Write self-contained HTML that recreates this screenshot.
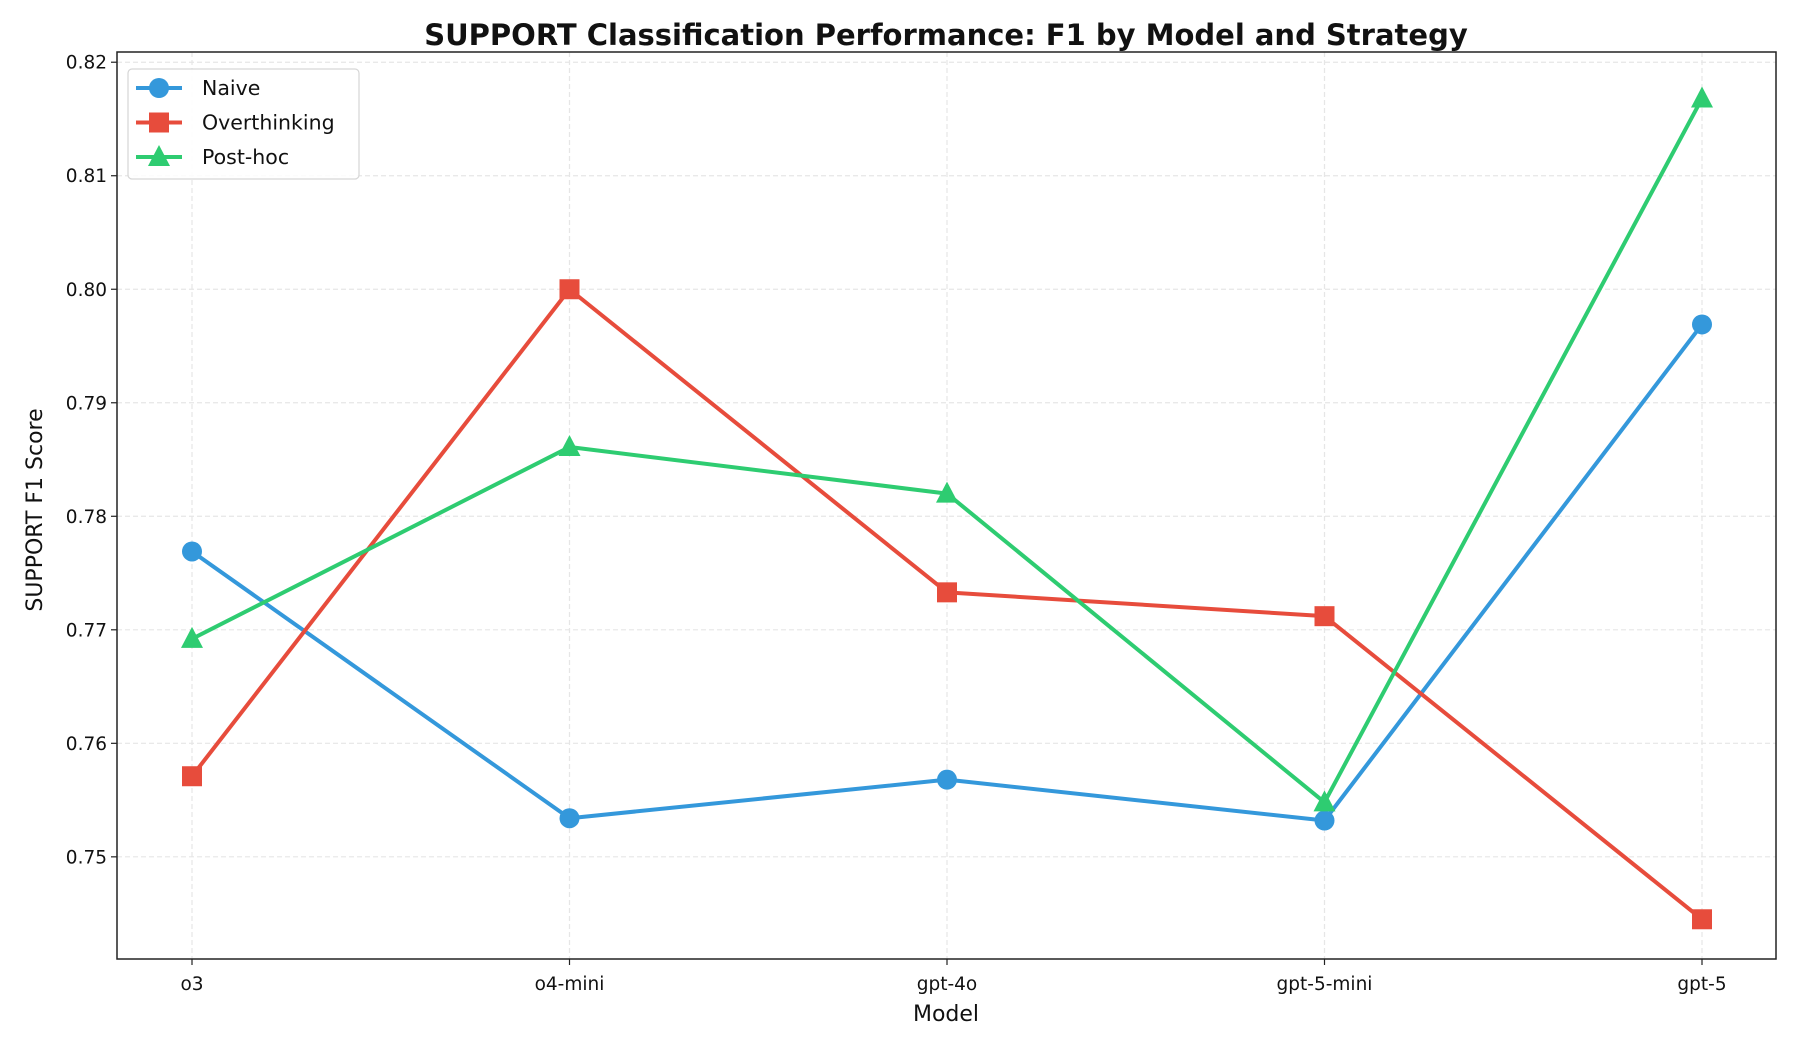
<!DOCTYPE html>
<html><head><meta charset="utf-8"><style>
body{margin:0;background:#fff}
svg{display:block;font-family:"DejaVu Sans","Liberation Sans",sans-serif}
</style></head><body>
<svg id="chart" width="1800" height="1050"></svg>
<script>
const categories=["o3","o4-mini","gpt-4o","gpt-5-mini","gpt-5"];
const naive=[0.7769,0.7534,0.7568,0.7532,0.7969];
const overthinking=[0.7571,0.8000,0.7733,0.7712,0.7445];
const posthoc=[0.7692,0.7861,0.7820,0.7548,0.8168];
const yTicks=[0.75,0.76,0.77,0.78,0.79,0.80,0.81,0.82];
const seriesNames=["Naive","Overthinking","Post-hoc"];

const NS="http://www.w3.org/2000/svg";
const svg=document.getElementById('chart');
const L=117,R=1776,T=52,B=959;
const yMin=0.7410,yMax=0.8209;
const x0=192,dx=377.5;
function xs(i){return x0+i*dx;}
function ys(v){return B-(v-yMin)/(yMax-yMin)*(B-T);}
function mk(tag,attrs,parent){const e=document.createElementNS(NS,tag);for(const k in attrs)e.setAttribute(k,attrs[k]);(parent||svg).appendChild(e);return e;}

yTicks.forEach(v=>{
  const g=mk('line',{x1:L,x2:R,y1:ys(v),y2:ys(v),stroke:'#e6e6e6','stroke-width':1.2,'stroke-dasharray':'5,3'});
  
  
  const t=mk('line',{x1:L-6,x2:L,y1:ys(v),y2:ys(v),stroke:'#222','stroke-width':1.2});
  
  
  const tx=mk('text',{x:L-10,y:ys(v)+6.5,'text-anchor':'end','font-size':18.5,fill:'#111'});
  tx.textContent=v.toFixed(2);
  
  
});
categories.forEach((c,i)=>{
  const g=mk('line',{x1:xs(i),x2:xs(i),y1:T,y2:B,stroke:'#e6e6e6','stroke-width':1.2,'stroke-dasharray':'5,3'});
  
  
  const t=mk('line',{x1:xs(i),x2:xs(i),y1:B,y2:B+6,stroke:'#222','stroke-width':1.2});
  
  
  const tx=mk('text',{x:xs(i),y:B+31,'text-anchor':'middle','font-size':18.5,fill:'#111'});
  tx.textContent=c;
  
  
});

const colors=['#3498db','#e74c3c','#2ecc71'];
const data=[naive,overthinking,posthoc];
const shapes=['circle','square','triangle'];
function marker(shape,cx,cy,color,parent){
  let e;
  if(shape==='circle')e=mk('circle',{cx:cx,cy:cy,r:10,fill:color},parent);
  else if(shape==='square')e=mk('rect',{x:cx-10,y:cy-10,width:20,height:20,fill:color},parent);
  else e=mk('polygon',{points:`${cx},${cy-12} ${cx+11},${cy+9} ${cx-11},${cy+9}`,fill:color},parent);
  return e;
}
data.forEach((arr,si)=>{
  const g=mk('g',{});
  
  
  const pts=arr.map((v,i)=>xs(i)+','+ys(v)).join(' ');
  const pl=mk('polyline',{points:pts,fill:'none',stroke:colors[si],'stroke-width':4,'stroke-linejoin':'round'},g);
  
  
  arr.forEach((v,i)=>{
    const m=marker(shapes[si],xs(i),ys(v),colors[si],g);
    
    
  });
});

const fr=mk('rect',{x:L,y:T,width:R-L,height:B-T,fill:'none',stroke:'#222','stroke-width':1.5});



const lg=mk('g',{});


mk('rect',{x:128,y:69,width:231,height:110,rx:4,fill:'#fff','fill-opacity':0.85,stroke:'#d6d6d6','stroke-width':1.2},lg);
seriesNames.forEach((n,i)=>{
  const cy=88+i*34.5;
  const e=mk('g',{},lg);
  
  
  mk('line',{x1:136,x2:182,y1:cy,y2:cy,stroke:colors[i],'stroke-width':4},e);
  marker(shapes[i],159,cy,colors[i],e);
  const t=mk('text',{x:202,y:cy+7,'font-size':20.5,fill:'#111'},e);
  t.textContent=n;
});

const title=mk('text',{x:946,y:45,'text-anchor':'middle','font-size':29,'font-weight':'bold',fill:'#111'});
title.textContent='SUPPORT Classification Performance: F1 by Model and Strategy';


const xl=mk('text',{x:946,y:1021,'text-anchor':'middle','font-size':22,fill:'#111'});
xl.textContent='Model';


const yl=mk('text',{x:0,y:0,'text-anchor':'middle','font-size':22,fill:'#111',transform:'translate(42,510) rotate(-90)'});
yl.textContent='SUPPORT F1 Score';


</script>
</body></html>
